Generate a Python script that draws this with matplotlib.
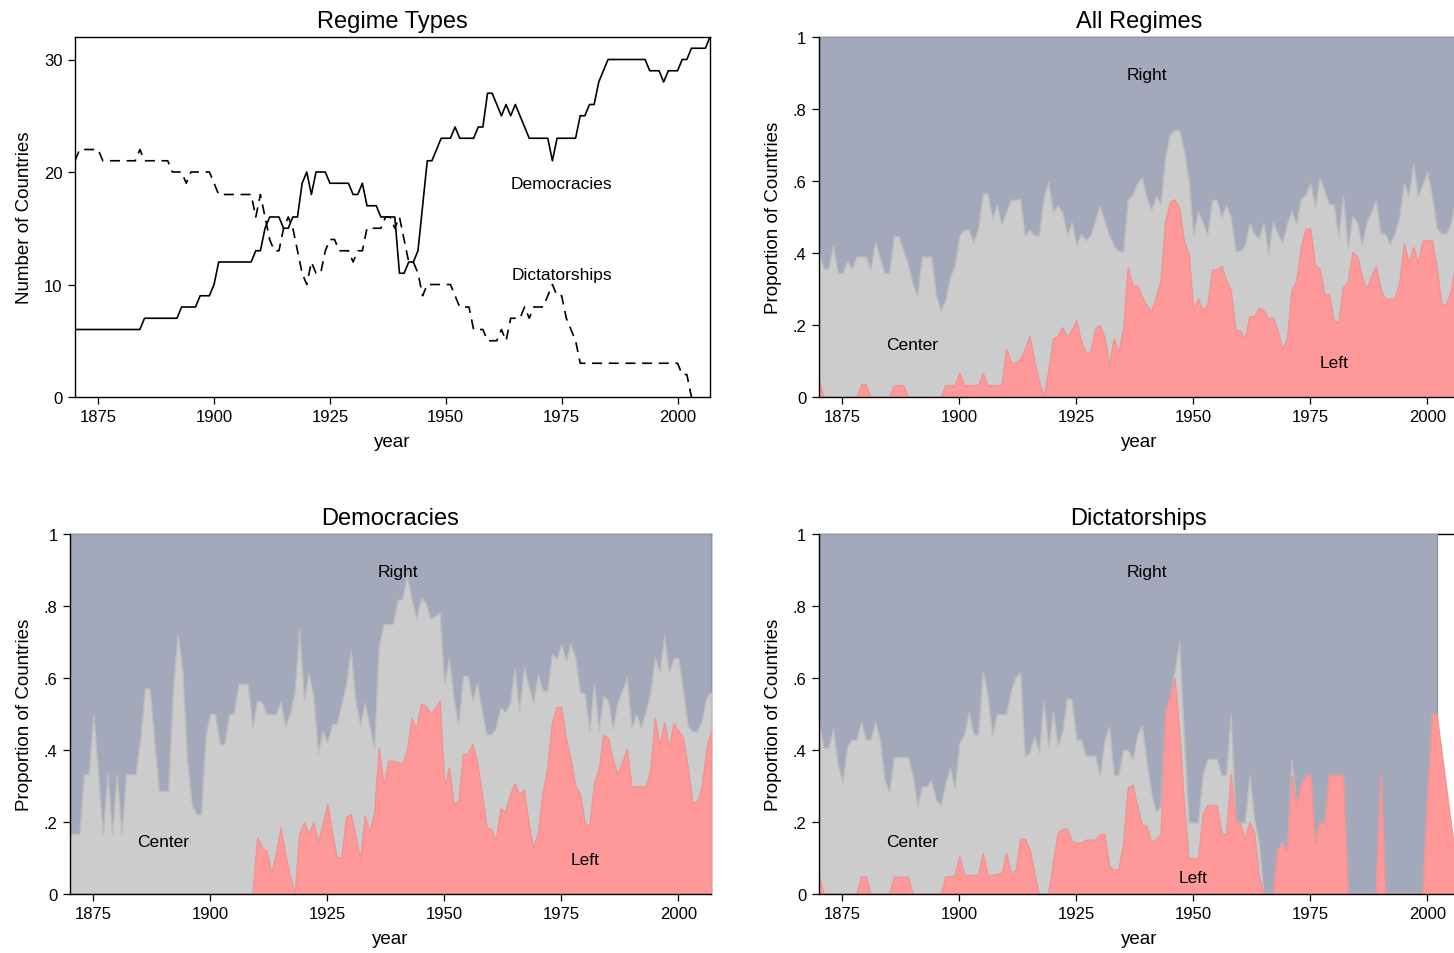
import numpy as np
import matplotlib
matplotlib.use("Agg")
import matplotlib.pyplot as plt

plt.rcParams["font.family"] = ["Liberation Sans", "DejaVu Sans"]

years = list(range(1870, 2008))

# number of countries by regime type
dem_count = [
    6, 6, 6, 6, 6, 6, 6, 6, 6, 6,
    6, 6, 6, 6, 6, 7, 7, 7, 7, 7,
    7, 7, 7, 8, 8, 8, 8, 9, 9, 9,
    10, 12, 12, 12, 12, 12, 12, 12, 12, 13,
    13, 15, 16, 16, 16, 15, 15, 16, 16, 19,
    20, 18, 20, 20, 20, 19, 19, 19, 19, 19,
    18, 18, 19, 17, 17, 17, 16, 16, 16, 16,
    11, 11, 12, 12, 13, 17, 21, 21, 22, 23,
    23, 23, 24, 23, 23, 23, 23, 24, 24, 27,
    27, 26, 25, 26, 25, 26, 25, 24, 23, 23,
    23, 23, 23, 21, 23, 23, 23, 23, 23, 25,
    25, 26, 26, 28, 29, 30, 30, 30, 30, 30,
    30, 30, 30, 30, 29, 29, 29, 28, 29, 29,
    29, 30, 30, 31, 31, 31, 31, 32]
dict_count = [
    21, 22, 22, 22, 22, 22, 21, 21, 21, 21,
    21, 21, 21, 21, 22, 21, 21, 21, 21, 21,
    21, 20, 20, 20, 19, 20, 20, 20, 20, 20,
    19, 18, 18, 18, 18, 18, 18, 18, 18, 16,
    18, 16, 14, 13, 13, 15, 16, 15, 13, 11,
    10, 12, 11, 11, 13, 14, 14, 13, 13, 13,
    12, 13, 13, 15, 15, 15, 15, 16, 16, 15,
    16, 14, 12, 12, 11, 9, 10, 10, 10, 10,
    10, 10, 9, 8, 8, 8, 6, 6, 6, 5,
    5, 5, 6, 5, 7, 7, 7, 8, 7, 8,
    8, 8, 9, 10, 9, 9, 7, 6, 5, 3,
    3, 3, 3, 3, 3, 3, 3, 3, 3, 3,
    3, 3, 3, 3, 3, 3, 3, 3, 3, 3,
    3, 2, 2, 0, None, None, None, None]

# cumulative shares: *_left = Left, *_center = Left + Center (rest is Right)
all_left = [
    .046, 0, 0, 0, 0, 0, 0, 0, 0, .035,
    .035, 0, 0, 0, 0, 0, .033, .033, .033, 0,
    0, 0, 0, 0, 0, 0, 0, .033, .033, .033,
    .067, .033, .033, .033, .033, .067, .033, .033, .033, .033,
    .134, .095, .095, .106, .134, .169, .100, .046, 0, .074,
    .162, .169, .194, .167, .185, .213, .153, .125, .125, .190,
    .200, .167, .088, .162, .125, .190, .361, .310, .310, .278,
    .255, .239, .278, .324, .491, .542, .549, .523, .435, .398,
    .241, .273, .241, .257, .354, .354, .364, .324, .296, .185,
    .185, .162, .224, .224, .248, .241, .218, .222, .185, .134,
    .162, .296, .324, .417, .468, .468, .366, .356, .285, .285,
    .213, .208, .307, .319, .403, .391, .335, .301, .333, .363,
    .301, .273, .273, .273, .315, .426, .372, .417, .372, .435,
    .435, .435, .361, .257, .257, .292, .370, .370]
all_center = [
    .400, .356, .356, .420, .344, .344, .378, .356, .390, .390,
    .390, .354, .430, .387, .344, .344, .447, .447, .407, .370,
    .315, .282, .390, .390, .390, .282, .240, .269, .333, .366,
    .449, .465, .465, .430, .468, .565, .565, .497, .532, .479,
    .514, .548, .548, .551, .447, .465, .449, .449, .554, .597,
    .514, .532, .514, .449, .486, .421, .454, .435, .450, .490,
    .532, .490, .450, .420, .405, .405, .548, .562, .594, .611,
    .556, .519, .558, .537, .667, .731, .741, .741, .685, .602,
    .449, .517, .486, .449, .548, .548, .500, .532, .500, .406,
    .406, .421, .483, .454, .440, .486, .398, .486, .454, .430,
    .481, .517, .481, .551, .563, .595, .528, .609, .574, .535,
    .535, .444, .560, .412, .502, .486, .421, .486, .514, .548,
    .454, .454, .424, .454, .500, .594, .557, .648, .557, .593,
    .625, .560, .470, .454, .454, .481, .546, .570]

dem_left = [
    0, 0, 0, 0, 0, 0, 0, 0, 0, 0,
    0, 0, 0, 0, 0, 0, 0, 0, 0, 0,
    0, 0, 0, 0, 0, 0, 0, 0, 0, 0,
    0, 0, 0, 0, 0, 0, 0, 0, 0, 0,
    .157, .130, .120, .056, .111, .185, .110, .050, 0, .167,
    .200, .167, .200, .144, .194, .250, .171, .102, .102, .213,
    .222, .162, .097, .218, .171, .227, .407, .300, .370, .370,
    .366, .361, .398, .490, .458, .528, .523, .503, .514, .537,
    .300, .352, .250, .259, .389, .389, .417, .366, .282, .185,
    .180, .148, .238, .229, .275, .308, .278, .290, .199, .127,
    .171, .282, .347, .477, .519, .519, .431, .375, .300, .278,
    .199, .190, .310, .347, .444, .432, .375, .331, .366, .403,
    .299, .299, .299, .299, .343, .490, .412, .477, .407, .474,
    .454, .435, .356, .256, .256, .296, .403, .454]
dem_center = [
    .167, .167, .167, .333, .333, .500, .333, .167, .333, .167,
    .333, .167, .333, .333, .333, .429, .571, .571, .429, .286,
    .286, .286, .571, .720, .625, .375, .250, .222, .222, .444,
    .500, .500, .417, .417, .500, .500, .583, .583, .583, .462,
    .538, .533, .500, .500, .500, .533, .467, .500, .563, .737,
    .537, .614, .551, .392, .454, .421, .472, .472, .528, .583,
    .676, .537, .468, .532, .468, .403, .690, .750, .750, .750,
    .818, .818, .884, .820, .766, .822, .808, .764, .773, .782,
    .583, .657, .542, .468, .606, .606, .537, .586, .509, .444,
    .444, .460, .519, .505, .528, .625, .509, .630, .579, .532,
    .611, .565, .565, .667, .653, .694, .648, .694, .657, .560,
    .558, .454, .586, .454, .551, .537, .458, .532, .565, .602,
    .461, .500, .463, .506, .556, .657, .616, .718, .616, .655,
    .655, .569, .468, .452, .452, .481, .546, .560]

dic_left = [
    .048, 0, 0, 0, 0, 0, 0, 0, 0, .048,
    .048, 0, 0, 0, 0, 0, .048, .048, .048, .048,
    0, 0, 0, 0, 0, 0, 0, .048, .050, .050,
    .106, .053, .053, .053, .053, .114, .053, .053, .056, .056,
    .114, .060, .065, .153, .153, .125, .060, 0, 0, 0,
    .090, .169, .181, .181, .148, .142, .142, .151, .151, .151,
    .167, .167, .079, .068, .068, .142, .296, .303, .245, .194,
    .190, .144, .153, .167, .505, .551, .600, .450, .250, .100,
    .100, .100, .222, .247, .247, .247, .167, .167, .333, .199,
    .199, .153, .200, .170, .050, 0, 0, 0, .125, .139,
    .120, .329, .245, .301, .331, .331, .139, .199, .199, .331,
    .331, .331, .331, 0, 0, 0, 0, 0, 0, 0,
    .331, 0, 0, 0, 0, 0, 0, 0, 0, 0,
    .270, .500, .500, None, None, None, None, 0]
dic_center = [
    .472, .407, .407, .458, .361, .310, .410, .429, .429, .479,
    .429, .429, .479, .429, .319, .282, .380, .380, .380, .380,
    .329, .245, .299, .300, .315, .262, .247, .306, .352, .294,
    .421, .444, .505, .443, .443, .618, .556, .440, .500, .500,
    .500, .565, .602, .614, .381, .394, .438, .392, .537, .407,
    .506, .412, .451, .544, .540, .429, .429, .384, .384, .384,
    .327, .426, .466, .331, .331, .401, .401, .373, .440, .468,
    .370, .282, .229, .245, .506, .551, .620, .700, .440, .199,
    .199, .199, .333, .375, .375, .375, .331, .331, .500, .199,
    .199, .199, .331, .208, .144, 0, 0, 0, .125, .144,
    .120, .373, .245, .301, .331, .331, .139, .199, .199, .331,
    .331, .331, .331, 0, 0, 0, 0, 0, 0, 0,
    .331, 0, 0, 0, 0, 0, 0, 0, 0, 0,
    .270, .500, .500, None, None, None, None, None]

x_ticks = [1875, 1900, 1925, 1950, 1975, 2000]
share_ticks = [0, .2, .4, .6, .8, 1]
share_labels = ["0", ".2", ".4", ".6", ".8", "1"]

RIGHT, RIGHT_EDGE = "#a3a9ba", "#8e95a9"
CENTER, CENTER_EDGE = "#cccccc", "#bdbdbd"
LEFT, LEFT_EDGE = "#ff9999", "#ee9494"

W, H = 1454, 954


def box(l, t, r, b):
    return [l / W, 1 - b / H, (r - l) / W, (b - t) / H]


def arr(vals):
    return np.array([np.nan if v is None else v for v in vals], dtype=float)


def style_axis(ax, title, ylabel):
    ax.set_xlim(1870, 2007)
    ax.set_xticks(x_ticks)
    ax.set_title(title, fontsize=17, pad=7)
    ax.set_xlabel("year", fontsize=13.5, labelpad=6)
    ax.set_ylabel(ylabel, fontsize=13.5, labelpad=8)
    ax.tick_params(direction="out", length=5, width=0.9, labelsize=12, pad=4)
    for side in ["left", "bottom"]:
        ax.spines[side].set_zorder(5)
        ax.spines[side].set_linewidth(1.0)
    for side in ["top", "right"]:
        ax.spines[side].set_zorder(0.5)
        ax.spines[side].set_linewidth(1.0)


def area_panel(ax, left_top, center_top, title, labels):
    x = np.array(years, dtype=float)
    c = arr(center_top)
    l = arr(left_top)
    okc = ~np.isnan(c)
    okl = ~np.isnan(l)
    ax.fill_between(x[okc], 0, 1, facecolor=RIGHT, edgecolor=RIGHT_EDGE,
                    linewidth=1.0, zorder=1)
    ax.fill_between(x[okc], 0, c[okc], facecolor=CENTER, edgecolor=CENTER_EDGE,
                    linewidth=1.0, zorder=2)
    ax.fill_between(x[okl], 0, l[okl], facecolor=LEFT, edgecolor=LEFT_EDGE,
                    linewidth=1.0, zorder=3)
    ax.set_ylim(0, 1)
    ax.set_yticks(share_ticks)
    ax.set_yticklabels(share_labels)
    for name, (lx, ly) in labels.items():
        ax.text(lx, ly, name, ha="center", va="center", fontsize=12.5, zorder=6)
    style_axis(ax, title, "Proportion of Countries")


fig = plt.figure(figsize=(W / 100, H / 100), dpi=100)

# regime counts
ax1 = fig.add_axes(box(75, 38, 710, 398))
ax1.plot(years, arr(dem_count), color="black", linewidth=1.2)
ax1.plot(years, arr(dict_count), color="black", linewidth=1.2, linestyle=(0, (6, 4)))
ax1.set_ylim(0, 32)
ax1.set_yticks([0, 10, 20, 30])
ax1.text(1975, 19.0, "Democracies", ha="center", va="center", fontsize=12.5)
ax1.text(1975, 10.9, "Dictatorships", ha="center", va="center", fontsize=12.5)
style_axis(ax1, "Regime Types", "Number of Countries")

ax2 = fig.add_axes(box(819, 38, 1460, 398))
area_panel(ax2, all_left, all_center, "All Regimes",
           {"Right": (1940, .897), "Center": (1890, .147), "Left": (1980, .097)})

ax3 = fig.add_axes(box(70, 535, 711, 895))
area_panel(ax3, dem_left, dem_center, "Democracies",
           {"Right": (1940, .897), "Center": (1890, .147), "Left": (1980, .097)})

ax4 = fig.add_axes(box(819, 535, 1460, 895))
area_panel(ax4, dic_left, dic_center, "Dictatorships",
           {"Right": (1940, .897), "Center": (1890, .147), "Left": (1950, .047)})

# the right-hand panels run past the page edge in the original
ax2.set_title("All Regimes", fontsize=17, pad=7, x=(1139 - 819) / (1460 - 819))
ax4.set_title("Dictatorships", fontsize=17, pad=7, x=(1139 - 819) / (1460 - 819))

fig.savefig("out.png", dpi=100)
